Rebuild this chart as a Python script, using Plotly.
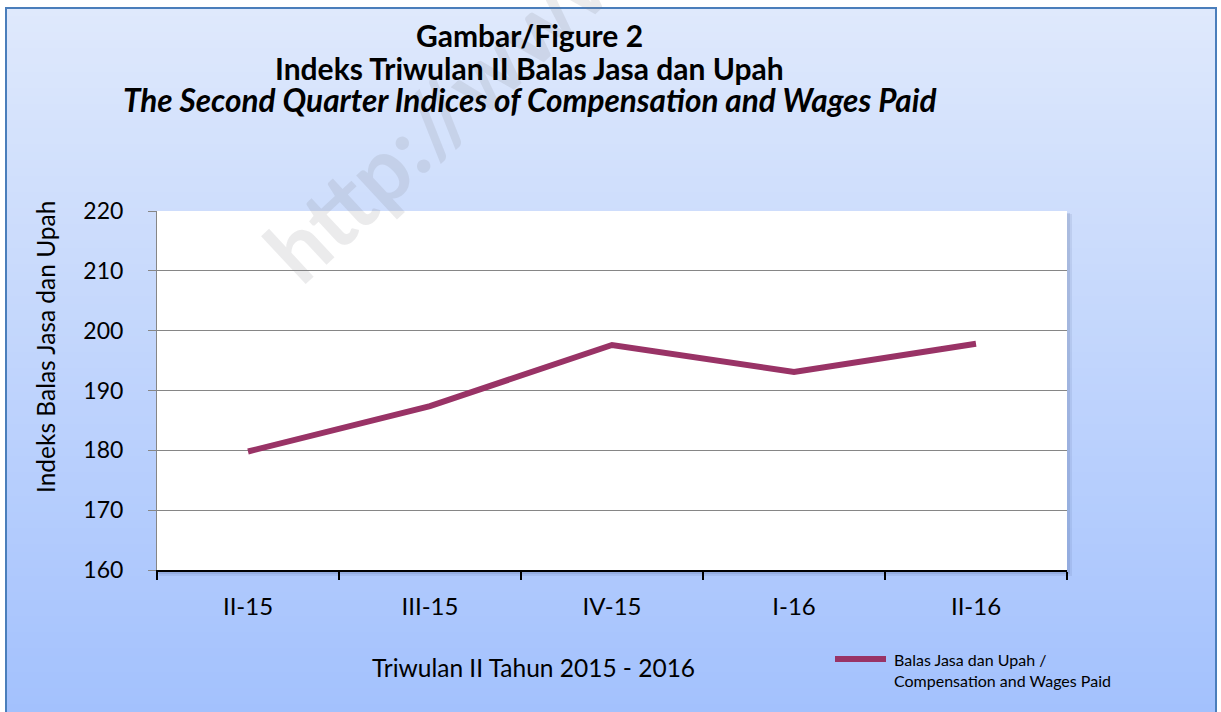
import plotly.graph_objects as go

# ---- data ----
categories = ["II-15", "III-15", "IV-15", "I-16", "II-16"]
values = [179.8, 187.4, 197.6, 193.1, 197.8]
y_min, y_max, y_step = 160, 220, 10
series_name = "Balas Jasa dan Upah /<br>Compensation and Wages Paid"
title_lines = ["Gambar/Figure 2",
               "Indeks Triwulan II Balas Jasa dan Upah",
               "<i>The Second Quarter Indices of Compensation and Wages Paid</i>"]
x_title = "Triwulan II Tahun 2015 - 2016"
y_title = "Indeks Balas Jasa dan Upah"
watermark = "http://www.bps.go.id"

# ---- layout geometry (pixels) ----
W, H = 1221, 712
L, R, T, B = 157, 1067, 211, 570
PW, PH = R - L, B - T
FONT = "Lato"
LINE_COLOR = "#993366"


def px(x):
    return (x - L) / PW


def py(y):
    return (B - y) / PH


fig = go.Figure()
fig.add_trace(go.Scatter(
    x=categories, y=values, mode="lines", name=series_name,
    line=dict(color=LINE_COLOR, width=6), showlegend=False,
))

shapes = []
# gradient background (stripes)
top_c = (223, 233, 252)
bot_c = (163, 193, 253)
y_start, y_end = 8, 712
n = 88
step = (y_end - y_start) / n
for i in range(n):
    t = (i + 0.5) / n
    c = tuple(round(a + (b - a) * t) for a, b in zip(top_c, bot_c))
    y0 = y_start + i * step
    y1 = y0 + step + 1
    shapes.append(dict(type="rect", xref="paper", yref="paper", layer="below",
                       x0=px(7), x1=px(1216), y0=py(min(y1, 712)), y1=py(y0),
                       fillcolor="rgb(%d,%d,%d)" % c, line=dict(width=0)))
# plot area shadow
shapes.append(dict(type="rect", xref="paper", yref="paper", layer="below",
                   x0=px(L + 2), x1=px(R + 5), y0=py(B + 6), y1=py(T + 3),
                   fillcolor="rgba(60,80,130,0.10)", line=dict(width=0)))
shapes.append(dict(type="rect", xref="paper", yref="paper", layer="below",
                   x0=px(L + 1), x1=px(R + 3), y0=py(B + 4), y1=py(T + 2),
                   fillcolor="rgba(60,80,130,0.14)", line=dict(width=0)))
# white plot area
shapes.append(dict(type="rect", xref="paper", yref="paper", layer="below",
                   x0=0, x1=1, y0=0, y1=1,
                   fillcolor="white", line=dict(width=0)))
# chart border
shapes.append(dict(type="rect", xref="paper", yref="paper", layer="below",
                   x0=px(6), x1=px(1216), y0=py(740), y1=py(8),
                   fillcolor="rgba(0,0,0,0)", line=dict(color="#4a7ebb", width=2)))
# legend sample line
shapes.append(dict(type="line", xref="paper", yref="paper", layer="above",
                   x0=px(835), x1=px(886), y0=py(659), y1=py(659),
                   line=dict(color=LINE_COLOR, width=6)))

annotations = []
annotations.append(dict(text="<b>%s</b>" % watermark, xref="paper", yref="paper",
                        x=px(580), y=py(-18), xanchor="center", yanchor="middle",
                        textangle=-43, showarrow=False,
                        font=dict(family=FONT, size=88, color="rgba(120,120,130,0.15)")))
for txt, yy, fs in zip(title_lines, [35, 68, 100], [30, 30, 31.5]):
    annotations.append(dict(text="<b>%s</b>" % txt, xref="paper", yref="paper",
                            x=px(529), y=py(yy), xanchor="center", yanchor="middle",
                            showarrow=False, font=dict(family=FONT, size=fs, color="black")))
annotations.append(dict(text=y_title, xref="paper", yref="paper",
                        x=px(45), y=py(347), xanchor="center", yanchor="middle",
                        textangle=-90, showarrow=False,
                        font=dict(family=FONT, size=24.5, color="black")))
annotations.append(dict(text=x_title, xref="paper", yref="paper",
                        x=px(533), y=py(667), xanchor="center", yanchor="middle",
                        showarrow=False, font=dict(family=FONT, size=24.5, color="black")))
annotations.append(dict(text=series_name, xref="paper", yref="paper",
                        x=px(892), y=py(669.5), xanchor="left", yanchor="middle",
                        align="left", showarrow=False,
                        font=dict(family=FONT, size=16, color="black")))

fig.update_layout(
    width=W, height=H,
    margin=dict(l=L, r=W - R, t=T, b=H - B, pad=0),
    paper_bgcolor="white", plot_bgcolor="rgba(0,0,0,0)",
    font=dict(family=FONT, color="black"),
    shapes=shapes, annotations=annotations,
    showlegend=False,
)
fig.update_xaxes(type="category", range=[-0.5, len(categories) - 0.5],
                 tickson="boundaries", ticks="outside", ticklen=8, tickwidth=2,
                 tickcolor="black", showline=True, linecolor="black", linewidth=2,
                 showgrid=False, zeroline=False, ticklabelstandoff=14,
                 tickfont=dict(family=FONT, size=24, color="black"))
fig.update_yaxes(range=[y_min, y_max], tick0=y_min, dtick=y_step,
                 ticks="outside", ticklen=8, tickcolor="#868686", tickwidth=1,
                 showline=True, linecolor="#868686", linewidth=1,
                 showgrid=True, gridcolor="#868686", gridwidth=1, zeroline=False,
                 ticklabelstandoff=20,
                 tickfont=dict(family=FONT, size=23, color="black"))

fig.write_html("out.html",
               config={"displayModeBar": False},
               post_script="document.body.style.margin='0';"
                           "document.body.style.overflow='hidden';")
